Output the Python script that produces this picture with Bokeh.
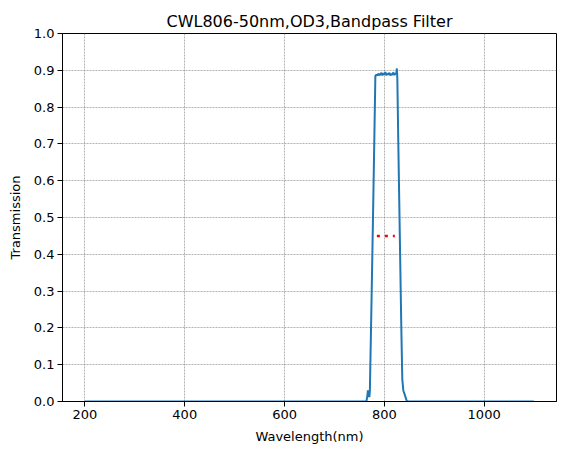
from bokeh.plotting import figure
from bokeh.models import Range1d, FixedTicker, PrintfTickFormatter
from bokeh.embed import file_html
from bokeh.resources import INLINE

# Data
wavelength = [200, 700, 760, 764, 766, 767, 768, 769, 770, 771, 774, 777, 780, 782,
              784, 786, 788, 790, 792, 794, 796, 798, 800, 802, 804, 806, 808,
              810, 812, 814, 816, 818, 820, 822, 824, 825, 826, 828, 831, 834,
              836, 838, 841, 844, 846, 900, 1100]
transmission = [0.0, 0.0, 0.0, 0.0, 0.015, 0.03, 0.02, 0.028, 0.012, 0.03, 0.25, 0.48, 0.72, 0.885,
                0.888, 0.886, 0.891, 0.887, 0.889, 0.893, 0.886, 0.892, 0.888, 0.895, 0.887, 0.89, 0.889,
                0.893, 0.886, 0.891, 0.888, 0.894, 0.887, 0.892, 0.89, 0.905, 0.88, 0.7, 0.45, 0.2,
                0.06, 0.03, 0.018, 0.005, 0.0, 0.0, 0.0]
fwhm_x = [785, 821]
fwhm_y = [0.45, 0.45]
x_ticks = [200, 400, 600, 800, 1000]
y_ticks = [0.0, 0.1, 0.2, 0.3, 0.4, 0.5, 0.6, 0.7, 0.8, 0.9, 1.0]

p = figure(width=565, height=453, output_backend="svg", toolbar_location=None,
           title="CWL806-50nm,OD3,Bandpass Filter",
           x_range=Range1d(155, 1145), y_range=Range1d(0, 1.0),
           min_border_left=62, min_border_right=9, min_border_top=33, min_border_bottom=52)

p.title.align = "center"
p.title.vertical_align = "middle"
p.title.text_font = "DejaVu Sans"
p.title.text_font_size = "16px"
p.title.text_font_style = "normal"
p.title.text_color = "black"
p.title.standoff = 4

p.outline_line_color = "black"
p.outline_line_width = 1
p.outline_line_alpha = 1

for ax in (p.xaxis[0], p.yaxis[0]):
    ax.axis_line_color = "black"
    ax.major_tick_out = 5
    ax.major_tick_in = 0
    ax.minor_tick_out = 0
    ax.minor_tick_in = 0
    ax.major_label_text_font = "DejaVu Sans"
    ax.major_label_text_font_size = "13px"
    ax.major_label_text_color = "black"
    ax.axis_label_text_font = "DejaVu Sans"
    ax.axis_label_text_font_size = "13px"
    ax.axis_label_text_font_style = "normal"
    ax.axis_label_text_color = "black"
    ax.major_tick_line_color = "black"

p.xaxis.ticker = FixedTicker(ticks=x_ticks)
p.yaxis.ticker = FixedTicker(ticks=y_ticks)
p.yaxis.formatter = PrintfTickFormatter(format="%.1f")
p.xaxis.axis_label = "Wavelength(nm)"
p.yaxis.axis_label = "Transmission"
p.xaxis.axis_label_standoff = 7
p.yaxis.axis_label_standoff = 8
p.xaxis.major_label_standoff = 3
p.yaxis.major_label_standoff = 3

p.xgrid.ticker = FixedTicker(ticks=x_ticks)
p.ygrid.ticker = FixedTicker(ticks=y_ticks)
for g in (p.xgrid[0], p.ygrid[0]):
    g.grid_line_color = "gray"
    g.grid_line_width = 0.6
    g.grid_line_dash = "2 1"
    g.grid_line_alpha = 1

p.line(wavelength, transmission, line_color="#1f77b4", line_width=2)
p.line(fwhm_x, fwhm_y, line_color="red", line_width=2.5, line_dash="3 5")

open("out.html", "w").write(file_html(p, INLINE))
